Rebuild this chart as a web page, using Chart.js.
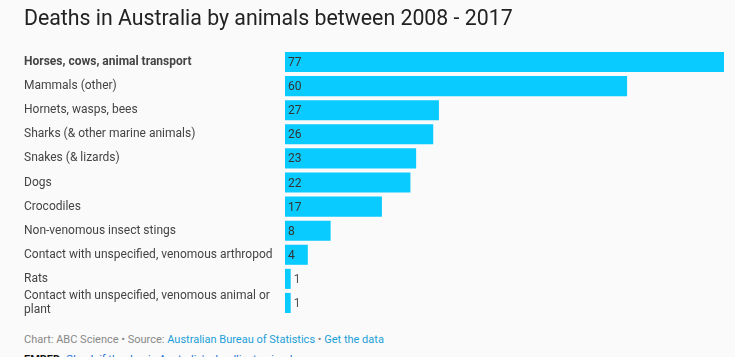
<!DOCTYPE html>
<html>
<head>
<meta charset="utf-8">
<script src="https://cdn.jsdelivr.net/npm/chart.js@4/dist/chart.umd.min.js"></script>
<style>
  html, body { margin:0; padding:0; background:#fafafa; width:735px; height:357px; overflow:hidden; font-family: Roboto, sans-serif; }
  #wrap { position:relative; width:735px; height:357px; }
  #title { position:absolute; left:24px; top:5px; font-size:21.3px; color:#222; white-space:nowrap; }
  #chartBox { position:absolute; left:0; top:0; width:735px; height:325px; }
  #footer { position:absolute; left:24px; top:333px; font-size:11px; color:#888; white-space:nowrap; }
  #footer a { color:#1a9fd8; text-decoration:none; }
  #embed { position:absolute; left:24px; top:353px; font-size:11px; color:#111; white-space:nowrap; }
  #embed a { color:#1a6fd8; text-decoration:none; }
</style>
</head>
<body>
<div id="wrap">
  <div id="chartBox"><canvas id="c"></canvas></div>
  <div id="title">Deaths in Australia by animals between 2008 - 2017</div>
  <div id="footer">Chart: ABC Science • Source: <a>Australian Bureau of Statistics</a> • <a>Get the data</a></div>
  <div id="embed"><b>EMBED:</b> <a>Check if the dog is Australia's deadliest animal</a></div>
</div>
<script>
const categories = [
  "Horses, cows, animal transport",
  "Mammals (other)",
  "Hornets, wasps, bees",
  "Sharks (& other marine animals)",
  "Snakes (& lizards)",
  "Dogs",
  "Crocodiles",
  "Non-venomous insect stings",
  "Contact with unspecified, venomous arthropod",
  "Rats",
  ["Contact with unspecified, venomous animal or", "plant"]
];
const deaths = [77, 60, 27, 26, 23, 22, 17, 8, 4, 1, 1];

const valueLabels = {
  id: 'valueLabels',
  afterDatasetsDraw(chart) {
    const ctx = chart.ctx;
    const meta = chart.getDatasetMeta(0);
    ctx.save();
    ctx.font = '12px Roboto, sans-serif';
    ctx.textBaseline = 'middle';
    ctx.textAlign = 'left';
    meta.data.forEach((bar, i) => {
      const v = chart.data.datasets[0].data[i];
      const w = bar.x - bar.base;
      if (w > 15) {
        ctx.fillStyle = '#333';
        ctx.fillText(String(v), bar.base + 3, bar.y + 1);
      } else {
        ctx.fillStyle = '#555';
        ctx.fillText(String(v), bar.x + 3, bar.y + 1);
      }
    });
    ctx.restore();
  }
};

new Chart(document.getElementById('c'), {
  type: 'bar',
  data: {
    labels: categories,
    datasets: [{
      data: deaths,
      backgroundColor: '#0ACBFF',
      borderWidth: 0,
      barPercentage: 1,
      categoryPercentage: 20/24
    }]
  },
  options: {
    indexAxis: 'y',
    responsive: true,
    maintainAspectRatio: false,
    animation: false,
    layout: { padding: { left: 24, right: 11, top: 50, bottom: 10 } },
    plugins: { legend: { display: false }, tooltip: { enabled: false }, title: { display: false } },
    scales: {
      x: { display: false, min: 0, max: 77 },
      y: {
        grid: { display: false, drawTicks: false },
        border: { display: false },
        afterFit(scale) { scale.width = 261; },
        ticks: {
          autoSkip: false,
          crossAlign: 'far',
          padding: 0,
          color: '#444',
          font: (c) => ({ family: 'Roboto, sans-serif', size: 12, weight: c.index === 0 ? 'bold' : 'normal', lineHeight: 1.12 })
        }
      }
    }
  },
  plugins: [valueLabels]
});
</script>
</body>
</html>
